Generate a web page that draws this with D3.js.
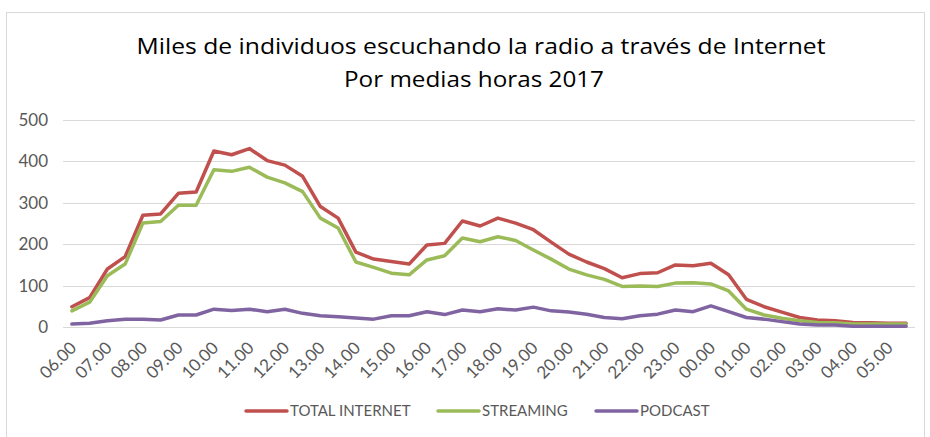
<!DOCTYPE html>
<meta charset="utf-8">
<style>
body { margin: 0; background: #fff; }
.title { font: 21px "Open Sans", Lato, sans-serif; fill: #000; text-anchor: middle; }
.axis text { font: 17px Lato, "Open Sans", sans-serif; fill: #595959; }
.legend text { font: 15px Lato, "Open Sans", sans-serif; fill: #595959; }
.grid line { stroke: #d9d9d9; stroke-width: 1; }
.series { fill: none; stroke-width: 3.5px; stroke-linejoin: round; stroke-linecap: round; }
</style>
<svg width="930" height="437"></svg>
<script src="https://d3js.org/d3.v7.min.js"></script>
<script>

// half-hour slots, 06.00 through 05.30
var slots = ["06.00","06.30","07.00","07.30","08.00","08.30","09.00","09.30",
  "10.00","10.30","11.00","11.30","12.00","12.30","13.00","13.30",
  "14.00","14.30","15.00","15.30","16.00","16.30","17.00","17.30",
  "18.00","18.30","19.00","19.30","20.00","20.30","21.00","21.30",
  "22.00","22.30","23.00","23.30","00.00","00.30","01.00","01.30",
  "02.00","02.30","03.00","03.30","04.00","04.30","05.00","05.30"];

var totalInternet = [49,71,140,170,270,273,323,326,425,416,431,402,391,364,291,263,
  181,164,158,152,198,202,256,244,263,251,235,205,176,157,141,119,
  129,131,150,148,154,126,67,49,36,23,17,15,11,10,9,9];

var streaming = [39,60,124,152,251,255,294,294,380,376,386,362,348,327,263,239,
  157,144,130,126,162,172,215,206,218,209,186,164,140,126,115,98,
  99,98,106,107,104,87,43,29,21,15,11,10,7,7,7,7];

var podcast = [7,9,15,19,19,17,29,29,43,40,43,37,43,33,27,25,
  22,19,27,27,37,30,41,37,44,41,48,39,36,31,23,20,
  27,31,41,37,51,37,23,19,13,7,5,5,2,2,2,2];

var yTicks = [0, 100, 200, 300, 400, 500];

var seriesNames = ["TOTAL INTERNET", "STREAMING", "PODCAST"];
var seriesColors = ["#c0504d", "#9bbb59", "#8064a2"];
var seriesValues = [totalInternet, streaming, podcast];

var svg = d3.select("svg");

// chart frame
svg.append("rect")
    .attr("x", 6.5).attr("y", 12.5)
    .attr("width", 918).attr("height", 430)
    .attr("fill", "#fff")
    .attr("stroke", "#d9d9d9");

svg.append("text").attr("class", "title")
    .attr("x", 481).attr("y", 54)
    .attr("textLength", 689).attr("lengthAdjust", "spacingAndGlyphs")
    .text("Miles de individuos escuchando la radio a través de Internet");
svg.append("text").attr("class", "title")
    .attr("x", 474).attr("y", 87)
    .attr("textLength", 260).attr("lengthAdjust", "spacingAndGlyphs")
    .text("Por medias horas 2017");

var x = d3.scalePoint()
    .domain(slots)
    .range([63, 915])
    .padding(0.5);

var y = d3.scaleLinear()
    .domain([0, 500])
    .range([327, 120]);

// gridlines
svg.append("g").attr("class", "grid")
  .selectAll("line")
  .data(yTicks)
  .enter().append("line")
    .attr("x1", 63).attr("x2", 915)
    .attr("y1", function(d) { return Math.round(y(d)) + 0.5; })
    .attr("y2", function(d) { return Math.round(y(d)) + 0.5; });

// y axis labels
var yAxis = svg.append("g").attr("class", "axis")
    .attr("transform", "translate(48,0)")
    .call(d3.axisLeft(y).tickValues(yTicks).tickSize(0).tickPadding(0));
yAxis.select(".domain").remove();

// x axis labels, one per hour
var xAxis = svg.append("g").attr("class", "axis")
    .attr("transform", "translate(0,327)")
    .call(d3.axisBottom(x)
      .tickValues(slots.filter(function(d, i) { return i % 2 === 0; }))
      .tickSize(0));
xAxis.select(".domain").remove();
xAxis.selectAll("text")
    .attr("text-anchor", "end")
    .attr("dy", null)
    .attr("y", 0)
    .attr("transform", "translate(5,22) rotate(-45)");

// lines
var line = d3.line()
    .x(function(d, i) { return x(slots[i]); })
    .y(function(d) { return y(d); });

svg.selectAll(".series")
  .data(seriesValues)
  .enter().append("path")
    .attr("class", "series")
    .attr("stroke", function(d, i) { return seriesColors[i]; })
    .attr("d", line);

// legend
var legendX = [246, 438, 596];
var legend = svg.append("g").attr("class", "legend")
  .selectAll("g")
  .data(seriesNames)
  .enter().append("g")
    .attr("transform", function(d, i) { return "translate(" + legendX[i] + ",411)"; });

legend.append("line")
    .attr("x1", 0).attr("x2", 41)
    .attr("stroke", function(d, i) { return seriesColors[i]; })
    .attr("stroke-width", 3.5)
    .attr("stroke-linecap", "round");

legend.append("text")
    .attr("x", 44)
    .attr("dy", "0.35em")
    .text(function(d) { return d; });

</script>
